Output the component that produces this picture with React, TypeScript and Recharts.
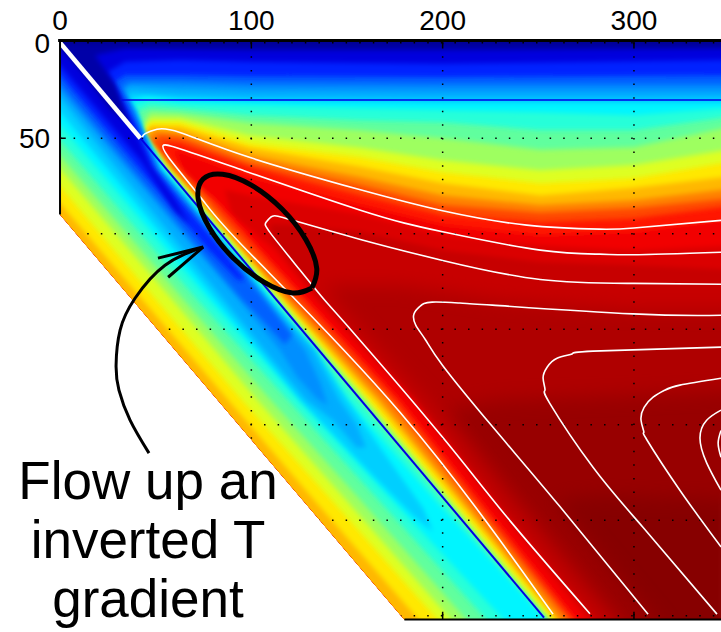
import { ScatterChart, Scatter, XAxis, YAxis } from 'recharts'

type Pt = [number, number]

// axis ticks
const xTicks = [0, 100, 200, 300]
const yTicks = [0, 50]

// temperature bands, coldest drawn last. each one is the outline of "T below this level"
const t100: Pt[] = [[355, 315], [-15, 315]]
const t985: Pt[] = [[355, 239.5], [282, 237], [259, 239.5], [314, 305], [314, 315], [-15, 315]]
const t967: Pt[] = [[355, 182], [300, 184.6], [230, 187], [201.8, 192.4], [240.5, 239.5], [295, 305], [295, 315], [-15, 315]]
const t940: Pt[] = [[355, 140], [300, 140], [230, 135], [178, 127], [138.5, 127], [143.7, 135], [191, 187], [232.6, 239.5], [288.5, 305], [288.5, 315], [-15, 315]]
const t920: Pt[] = [[355, 119], [300, 116.5], [251, 115], [200, 108.6], [157, 99], [120, 95.5], [110, 95], [111, 103], [137, 135], [186, 187], [227, 239.5], [282, 305], [282, 315], [-15, 315]]
const t900: Pt[] = [[355, 106], [300, 108.6], [251, 106], [200, 101], [157, 90], [99, 80], [86, 77], [90, 90], [112.4, 108.6], [134, 135], [183.5, 187], [225, 239.5], [278, 305], [278, 315], [-15, 315]]
const t875: Pt[] = [[355, 92], [300, 99], [251, 101], [200, 95.5], [157, 85], [99, 70.4], [68, 59], [60, 56], [65.3, 69.4], [82, 82.5], [106, 108.6], [130, 135], [178, 187], [220, 239.5], [272.8, 305], [272.8, 315], [-15, 315]]
const t830: Pt[] = [[355, 85], [300, 92], [251, 94], [200, 90.3], [157, 80], [99, 65], [62.7, 52.6], [55, 52], [52.3, 56], [63.8, 66.8], [79.5, 82.5], [103, 108.6], [127, 135], [175, 187], [217, 239.5], [270, 305], [270, 315], [-15, 315]]
const t780: Pt[] = [[355, 81], [300, 86.7], [251, 89], [200, 85], [157, 74.6], [99, 62.6], [62.7, 49.5], [52.3, 48.4], [48, 52], [60.6, 66.8], [75.8, 82.5], [98, 108.6], [121.8, 135], [172, 187], [214, 239.5], [267.6, 305], [267.6, 315], [-15, 315]]
const t720: Pt[] = [[355, 76], [300, 82.5], [251, 85], [200, 80], [157, 70.4], [99, 59], [62.7, 47], [49.7, 45.8], [45.5, 50], [58.5, 66.8], [73, 82.5], [95.6, 108.6], [118.7, 135], [167, 187], [210, 239.5], [263.4, 305], [263.4, 315], [-15, 315]]
const t670: Pt[] = [[355, 69.4], [300, 76], [251, 80], [200, 73.6], [157, 65], [99, 55], [62.7, 44], [47, 43.7], [43.4, 48.4], [57.5, 66.8], [71.6, 82.5], [94, 108.6], [116.6, 135], [164, 187], [207.5, 239.5], [261.4, 305], [261.4, 315], [192, 315], [190, 305], [132.8, 239.5], [87.8, 187], [43.4, 135], [0, 84], [-15, 66]]
const t625: Pt[] = [[355, 61.5], [300, 71], [251, 73.6], [200, 67.8], [157, 60], [99, 52.6], [62.7, 41.6], [47, 41.6], [42.3, 48], [56.5, 66.8], [70.4, 82.5], [93, 108.6], [115.5, 135], [161, 187], [205, 239.5], [260, 305], [260, 315], [208, 315], [200, 305], [142, 239.5], [95, 187], [50.5, 135], [0, 75], [-15, 57]]
const t560: Pt[] = [[355, 55], [300, 64], [251, 66.8], [200, 61.5], [157, 55], [99, 48.4], [62.7, 39.5], [47, 39.5], [42, 47.4], [56, 66.8], [69.8, 82.5], [92, 108.6], [114.5, 135], [159.4, 187], [203, 239.5], [258, 305], [258, 315], [215, 315], [207, 305], [149.5, 239.5], [103, 187], [59, 135], [0, 66], [-15, 48]]
const t500: Pt[] = [[355, 43], [300, 54.7], [251, 56], [200, 50], [157, 45.8], [99, 42], [62.7, 37], [47, 36.4], [41, 45.8], [55.6, 66.8], [69.5, 82.5], [91.5, 108.6], [113.4, 135], [158, 187], [201.8, 239.5], [256.6, 305], [256.6, 315], [224, 315], [215, 305], [157, 239.5], [110, 187], [65, 135], [0, 59], [-15, 41]]
const t440: Pt[] = [[355, 38], [300, 45.8], [251, 45.8], [200, 41.6], [157, 40.6], [99, 38], [62.7, 34.3], [47, 33.2], [40.2, 36.3], [42.3, 43], [43.4, 47.4], [55, 66.8], [68.5, 82.5], [90.4, 108.6], [112.4, 135], [155.8, 187], [200, 239.5], [255, 305], [255, 315], [234, 315], [225.5, 305], [166.5, 239.5], [119, 187], [72, 135], [0, 51], [-15, 33]]
const t385: Pt[] = [[355, 33.8], [300, 38], [251, 36.4], [200, 35.3], [157, 34.3], [99, 32.7], [62.7, 31.7], [47, 30], [37.6, 32.7], [40.8, 39.5], [42.9, 46.8], [54.4, 66.8], [67.4, 82.5], [89.4, 108.6], [110.8, 135], [150, 187], [196, 239.5], [245, 292], [256, 305], [256, 315], [240, 315], [234.7, 305], [173.5, 239.5], [125, 187], [78.4, 135], [0, 43], [-15, 25]]
const t345: Pt[] = [[355, 31.5], [200, 31.5], [99, 30.5], [62.7, 29.5], [45, 27.5], [36, 30], [40, 37], [42.9, 46], [53.3, 66.8], [67, 82.5], [89, 108.6], [110, 135], [134, 161], [150, 187], [168, 213], [190, 244], [195, 256], [185, 248], [165, 228], [125.5, 187], [104, 161], [82, 135], [0, 36], [-15, 18]]
const t310: Pt[] = [[355, 28.5], [300, 29], [200, 29], [99, 28.5], [62.7, 27.5], [37.6, 25.9], [34, 27.9], [39.7, 35.3], [42.9, 45.8], [52.3, 66.8], [66, 82.5], [88, 108.6], [108.7, 135], [132, 161], [146, 187], [155, 200], [160, 212], [155, 212], [143, 198], [128.6, 187], [107, 161], [86, 135], [0, 29], [-15, 11]]
const t280: Pt[] = [[355, 25.6], [200, 25.6], [99, 25], [62.7, 24], [36.6, 22.5], [33, 25], [36.6, 32.6], [41.8, 44.6], [51.7, 66.8], [65, 82.5], [87, 108.6], [107.7, 135], [128, 161], [136, 178], [140, 190], [134, 186], [124, 175], [115, 161], [94, 135], [0, 25], [-15, 7]]
const t250: Pt[] = [[355, 22], [200, 22], [99, 21.7], [62.7, 20.7], [36.6, 20.6], [32.4, 23.2], [35.5, 30], [41.3, 44.1], [51, 66.8], [64.3, 82.5], [86, 108.6], [107, 135], [121.3, 153], [117.6, 158], [105.5, 145], [95.6, 135], [0, 22], [-15, 4]]
const t190: Pt[] = [[355, 17], [200, 18], [99, 17.5], [62.7, 17], [34, 17], [28.7, 20.6], [32.4, 28.4], [39.7, 43], [49.7, 66.8], [62.7, 82.5], [84.7, 108.6], [96.8, 124.3], [93, 124.3], [78, 108.6], [46.5, 72], [0, 17], [-15, -1]]
const t125: Pt[] = [[355, 9], [200, 11], [99, 10], [62.7, 9], [34, 10], [25, 15.3], [32.4, 32.6], [38.7, 44.7], [47, 64], [60, 82.5], [68, 95.5], [60, 88], [42.3, 61.5], [0, 11.8], [-15, 0]]
const t060: Pt[] = [[355, 3], [200, 4], [99, 4], [34, 3], [18.3, 6.5], [28.7, 22], [36.6, 43], [26, 35], [10.5, 14.4], [0, 3], [-15, -5]]
const t020: Pt[] = [[355, 1], [-15, 1]]

const bandLevels = [1, 0.985, 0.967, 0.94, 0.92, 0.9, 0.875, 0.83, 0.78, 0.72, 0.67, 0.625, 0.56, 0.5, 0.44, 0.385, 0.345, 0.31, 0.28, 0.25, 0.19, 0.125, 0.06, 0.02]
const bandOutlines = [t100, t985, t967, t940, t920, t900, t875, t830, t780, t720, t670, t625, t560, t500, t440, t385, t345, t310, t280, t250, t190, t125, t060, t020]
const bandCorners: Pt[] = [[-15, -15], [355, -15]]

// region the field exists in
const domainOutline: Pt[] = [[0, -1], [346, -1], [346, 302], [180, 302], [0, 90]]

// white contour lines
const contour1: Pt[] = [[43, 49.5], [44.5, 47.6], [50.7, 45.3], [62.7, 47], [99, 60], [157, 77], [200, 88], [244, 95.5], [282, 97.6], [300, 97], [345.5, 93]]
const contour2: Pt[] = [[257.7, 299.2], [177.7, 193.5], [99, 110], [74.7, 82.5], [59, 63], [53.8, 54], [61, 55], [90.4, 65], [157, 87.7], [200, 99], [251, 108.6], [282, 110.7], [300, 111], [345.5, 109.7]]
const contour3: Pt[] = [[277, 299], [233.7, 248.5], [200, 206.6], [157, 156], [138.5, 135], [125.4, 119], [110, 99.7], [107.7, 94], [111, 90.8], [121.8, 93], [157, 103], [200, 114], [251, 124], [300, 126], [345.5, 126.5]]
const contour4: Pt[] = [[307.4, 299.2], [261.4, 243], [226, 201], [200, 169], [191, 155.5], [186, 148], [185, 142], [188.2, 138], [194.5, 135.8], [209, 136.3], [226, 137.4], [299.5, 142], [345.5, 142.7]]
const contour5: Pt[] = [[343.4, 299.2], [304.7, 253.7], [278.6, 222.3], [256, 188.8], [253.5, 181.9], [252.5, 175.6], [254.6, 169.9], [259.8, 165.2], [267.6, 163], [278.6, 161.5], [345.5, 159.4]]
const contour6: Pt[] = [[345.5, 264], [324, 234.3], [306.8, 208], [305.2, 204], [303.7, 197.7], [305.3, 190.9], [310, 185.6], [316, 182], [324, 179.3], [345.5, 175.7]]
const contour7: Pt[] = [[345.5, 234.3], [338, 220], [334.5, 207], [338, 197.7], [345.5, 192.4]]
const contour8: Pt[] = [[345.5, 217], [344, 209.7], [345.5, 203]]
const contours = [contour1, contour2, contour3, contour4, contour5, contour6, contour7, contour8]

// slab surface and the horizontal line at the base of the lid
const plateSurface: Pt[] = [[0, 0], [42, 50]]
const slabSurface: Pt[] = [[42, 50], [253, 301]]
const lidBase: Pt[] = [[32, 30], [346, 30]]

// dotted grid
const gridVertical = [0, 100, 200, 300]
const gridHorizontal = [0, 50, 100, 150, 200, 250, 300]

// axis frame pieces
const frameTop: Pt[] = [[-1, -1.2], [346, -1.2]]
const frameLeft: Pt[] = [[0, -1], [0, 90]]
const frameBottom: Pt[] = [[180, 302], [346, 302]]
const frameTicks: Pt[][] = [
  [[100, -1], [100, 3]], [[200, -1], [200, 3]], [[300, -1], [300, 3]],
  [[200, 302], [200, 298]], [[300, 302], [300, 298]],
  [[0, 50], [3, 50]],
]

// annotation
const ellipseOutline: Pt[] = [[131.7, 128.4], [134.2, 118.2], [128.5, 103.1], [116, 87.1], [100, 74.6], [85, 68.9], [74.8, 71.4], [72.2, 81.6], [78, 96.7], [90.5, 112.7], [106.4, 125.2], [121.5, 131], [131.7, 128.4]]
const arrowShaft: Pt[] = [[46.5, 214.9], [36.6, 197.6], [30.8, 181.9], [29.3, 168.9], [31.4, 150.5], [39.2, 133.8], [54.9, 116.5], [74.8, 107]]
const arrowHead: Pt[] = [[51.2, 112.8], [74.8, 107], [56.5, 122.8]]
const labelLines = ['Flow up an', 'inverted T', 'gradient']

const toRows = (pts: Pt[]) => pts.map(([x, y]) => ({ x, y }))

// jet colormap
const jet = (t: number) => {
  const ch = (v: number) => Math.round(255 * Math.max(0, Math.min(1, v)))
  const r = Math.min(4 * t - 1.5, 4.5 - 4 * t)
  const g = Math.min(4 * t - 0.5, 3.5 - 4 * t)
  const b = Math.min(4 * t + 0.5, 2.5 - 4 * t)
  return `rgb(${ch(r)},${ch(g)},${ch(b)})`
}

// a band runs from its own level down to the next one, so paint it with the middle of the two
const bandColor = (i: number) => jet((bandLevels[i] + (bandLevels[i + 1] ?? bandLevels[i])) / 2)

const toPointString = (points: { x: number; y: number }[]) => points.map((p) => `${p.x},${p.y}`).join(' ')

const font = '"Liberation Sans", Arial, sans-serif'

const noDot = () => <g />

function segment(key: string, pts: Pt[], stroke: string, width: number, dash?: string, clip?: boolean, joint?: any) {
  return (
    <Scatter
      key={key}
      data={toRows(pts)}
      shape={noDot}
      isAnimationActive={false}
      fill="none"
      lineJointType={joint ?? 'linear'}
      line={{ stroke, strokeWidth: width, strokeDasharray: dash, fill: 'none', clipPath: clip ? 'url(#domain)' : undefined }}
    />
  )
}

export default function App() {
  return (
    <div style={{ position: 'absolute', left: 0, top: 0, width: 721, height: 632, background: '#fff' }}>
      <ScatterChart width={721} height={632} margin={{ top: 0, right: 0, bottom: 8.7, left: 0 }}>
        <defs>
          <filter id="soft" filterUnits="userSpaceOnUse" x={-200} y={-200} width={1300} height={1200}>
            <feGaussianBlur stdDeviation={2.5} />
          </filter>
          <filter id="softWide" filterUnits="userSpaceOnUse" x={-200} y={-200} width={1300} height={1200}>
            <feGaussianBlur stdDeviation={9} />
          </filter>
        </defs>
        <XAxis
          type="number"
          dataKey="x"
          orientation="top"
          domain={[-2, 345.5]}
          allowDataOverflow
          ticks={xTicks}
          interval={0}
          height={37}
          tickLine={false}
          tickMargin={1}
          axisLine={false}
          tick={{ fill: '#000', fontSize: 28, fontFamily: font }}
        />
        <YAxis
          type="number"
          dataKey="y"
          reversed
          domain={[-3, 304]}
          allowDataOverflow
          ticks={yTicks}
          interval={0}
          width={56.2}
          tickLine={false}
          tickMargin={0}
          axisLine={false}
          tick={{ fill: '#000', fontSize: 28, fontFamily: font }}
        />

        <Scatter
          data={toRows(domainOutline)}
          shape={noDot}
          isAnimationActive={false}
          line={(p: any) => (
            <defs>
              <clipPath id="domain">
                <polygon points={toPointString(p.points)} />
              </clipPath>
            </defs>
          )}
        />

        {bandOutlines.map((outline, i) => (
          <Scatter
            key={bandLevels[i]}
            data={toRows([...outline, ...bandCorners])}
            shape={noDot}
            isAnimationActive={false}
            line={(p: any) => (
              <g clipPath="url(#domain)">
                <polygon
                  points={toPointString(p.points)}
                  fill={bandColor(i)}
                  filter={bandLevels[i] >= 0.94 ? 'url(#softWide)' : 'url(#soft)'}
                />
              </g>
            )}
          />
        ))}

        {gridVertical.map((x) => segment(`gv${x}`, [[x, 0], [x, 302]], '#000', 1.5, '1.5 12.1', true))}
        {gridHorizontal.map((y) => segment(`gh${y}`, [[0, y], [346, y]], '#000', 1.5, '1.5 12.1', true))}

        {contours.map((c, i) => segment(`c${i}`, c, '#fff', 1.6, undefined, true, 'natural'))}
        {segment('lid', lidBase, '#0000e6', 1.5, undefined, true)}
        {segment('slab', slabSurface, '#0000e6', 2, undefined, true)}
        {segment('plate', plateSurface, '#fff', 4.5, undefined, true)}

        {segment('frameTop', frameTop, '#000', 3)}
        {segment('frameLeft', frameLeft, '#000', 2)}
        {segment('frameBottom', frameBottom, '#000', 2)}
        {frameTicks.map((t, i) => segment(`tick${i}`, t, '#000', 1.5))}

        {segment('ellipse', ellipseOutline, '#000', 5, undefined, false, 'natural')}
        {segment('arrowShaft', arrowShaft, '#000', 3, undefined, false, 'natural')}
        {segment('arrowHead', arrowHead, '#000', 3)}

        {labelLines.map((line, i) => (
          <text key={line} x={148} y={499 + i * 59} textAnchor="middle" fontSize={53} fontFamily={font} fill="#000">
            {line}
          </text>
        ))}
      </ScatterChart>
    </div>
  )
}
